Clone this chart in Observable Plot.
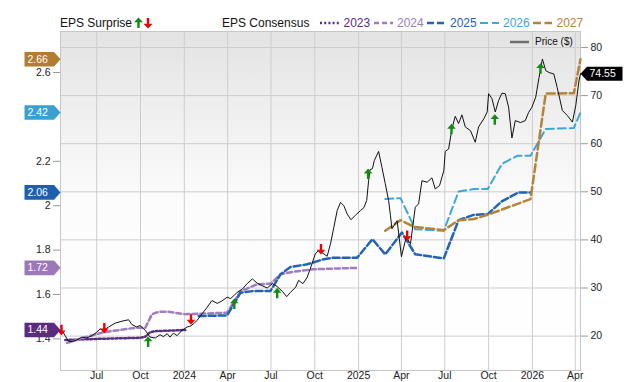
<!DOCTYPE html>
<html><head><meta charset="utf-8">
<script src="https://cdn.jsdelivr.net/npm/d3@7"></script>
<script src="https://cdn.jsdelivr.net/npm/@observablehq/plot@0.6"></script>
<style>
body{margin:0;background:#fff;font-family:"Liberation Sans",Arial,sans-serif;}
#wrap{position:relative;width:640px;height:382px;overflow:hidden}
#legend{position:relative;height:28px;font-size:12px;color:#111}
#legend span,#legend svg{position:absolute;line-height:14px;white-space:nowrap}
#plegend{position:absolute;left:510px;top:36px;font-size:10px;color:#111}
</style></head><body>
<div id="wrap"><div id="legend"></div><div id="chart"></div><div id="plegend"></div></div>
<script>
// ---- data ----
const price = [
["2023-04-19",21.2],["2023-05-03",18.9],["2023-05-13",18.9],["2023-05-20",19.2],["2023-05-31",19.8],
["2023-06-10",19.6],["2023-06-21",20.1],["2023-07-01",20.8],["2023-07-08",21.5],["2023-07-15",21.2],
["2023-07-26",21.9],["2023-08-09",22.7],["2023-08-23",23.1],["2023-09-06",23.4],["2023-09-13",22.4],
["2023-09-23",21.9],["2023-09-30",22.2],["2023-10-11",21.2],["2023-10-21",19.8],["2023-11-01",19.6],
["2023-11-11",20.3],["2023-11-18",19.9],["2023-11-26",20.5],["2023-12-02",19.8],["2023-12-09",20.6],
["2023-12-17",20.1],["2023-12-27",21.2],["2024-01-07",21.9],["2024-01-14",22.1],["2024-01-21",22.6],
["2024-01-28",23.3],["2024-02-07",24.6],["2024-02-18",26.0],["2024-02-28",27.4],["2024-03-10",26.8],
["2024-03-20",27.3],["2024-03-31",28.1],["2024-04-07",27.8],["2024-04-14",28.4],["2024-04-21",29.1],
["2024-05-02",29.8],["2024-05-12",30.9],["2024-05-23",31.9],["2024-06-02",31.0],["2024-06-12",30.5],
["2024-06-23",30.0],["2024-07-04",30.9],["2024-07-14",30.3],["2024-07-25",29.3],["2024-08-03",28.2],
["2024-08-11",29.1],["2024-08-22",30.2],["2024-08-28",31.6],["2024-09-06",30.9],["2024-09-15",32.2],
["2024-09-25",35.0],["2024-10-02",37.1],["2024-10-09",37.8],["2024-10-20",37.1],["2024-10-27",36.6],
["2024-11-03",39.2],["2024-11-10",42.6],["2024-11-17",46.1],["2024-11-24",47.8],["2024-12-01",47.1],
["2024-12-08",45.4],["2024-12-16",44.2],["2024-12-25",45.1],["2025-01-05",46.1],["2025-01-12",46.7],
["2025-01-18",48.2],["2025-01-22",52.3],["2025-01-25",54.6],["2025-01-30",54.8],["2025-02-03",56.5],
["2025-02-12",58.4],["2025-02-19",55.1],["2025-02-26",51.7],["2025-03-05",48.2],["2025-03-09",45.0],
["2025-03-12",42.3],["2025-03-23",44.0],["2025-04-01",36.5],["2025-04-11",40.6],["2025-04-20",39.2],
["2025-04-30",46.8],["2025-05-07",47.5],["2025-05-14",52.3],["2025-05-25",52.0],["2025-06-04",52.9],
["2025-06-11",50.6],["2025-06-20",51.3],["2025-06-29",54.4],["2025-07-02",58.4],["2025-07-09",58.9],
["2025-07-16",63.1],["2025-07-23",65.7],["2025-07-30",64.2],["2025-08-06",66.0],["2025-08-13",63.5],
["2025-08-24",62.7],["2025-09-03",60.3],["2025-09-10",63.5],["2025-09-21",65.2],["2025-09-28",66.6],
["2025-10-01",70.4],["2025-10-08",69.4],["2025-10-15",66.6],["2025-10-22",69.0],["2025-10-29",70.5],
["2025-11-05",70.4],["2025-11-12",67.6],["2025-11-19",61.2],["2025-11-26",64.8],["2025-12-07",64.4],
["2025-12-17",64.8],["2025-12-24",66.5],["2025-12-31",67.6],["2026-01-08",69.7],["2026-01-15",73.8],
["2026-01-22",77.6],["2026-01-29",75.2],["2026-02-05",74.8],["2026-02-15",74.5],["2026-02-22",71.7],
["2026-03-05",66.9],["2026-03-15",65.9],["2026-03-26",64.5],["2026-04-02",67.9],["2026-04-09",73.2],
["2026-04-12",74.55]
];
const eps2023 = [["2023-04-26",1.395],["2023-07-01",1.400],["2023-09-30",1.405],["2023-10-11",1.41],
["2023-10-21",1.43],["2023-11-01",1.435],["2024-01-03",1.44]];
const eps2024 = [["2023-04-30",1.382],["2023-06-04",1.405],["2023-07-15",1.430],["2023-09-20",1.450],
["2023-10-11",1.450],["2023-10-25",1.511],["2023-11-08",1.522],["2023-11-29",1.522],["2024-01-03",1.511],
["2024-01-28",1.513],["2024-03-31",1.518],["2024-04-28",1.614],["2024-06-02",1.646],["2024-06-30",1.649],
["2024-07-21",1.691],["2024-08-18",1.703],["2024-09-29",1.714],["2024-12-28",1.72]];
const eps2025 = [["2024-01-31",1.503],["2024-03-31",1.506],["2024-04-28",1.608],["2024-05-26",1.616],
["2024-06-30",1.616],["2024-07-21",1.691],["2024-08-11",1.724],["2024-09-15",1.736],["2024-10-20",1.759],
["2024-11-10",1.766],["2024-12-29",1.766],["2025-01-30",1.849],["2025-02-26",1.781],["2025-04-02",1.879],
["2025-04-30",1.781],["2025-06-29",1.763],["2025-07-30",1.935],["2025-08-31",1.959],["2025-09-29",1.962],
["2025-10-29",2.02],["2025-12-03",2.06],["2025-12-28",2.06]];
const eps2026 = [["2025-02-26",2.030],["2025-03-30",2.034],["2025-04-30",1.894],["2025-06-29",1.887],
["2025-07-30",2.064],["2025-08-31",2.075],["2025-09-29",2.075],["2025-10-29",2.188],["2025-11-30",2.225],
["2025-12-28",2.225],["2026-01-29",2.346],["2026-03-29",2.350],["2026-04-12",2.42]];
const eps2027 = [["2025-02-26",1.887],["2025-03-30",1.935],["2025-04-27",1.905],["2025-06-29",1.890],
["2025-07-30",1.935],["2025-08-31",1.940],["2025-09-29",1.959],["2025-12-28",2.030],["2026-01-29",2.505],
["2026-03-29",2.507],["2026-04-12",2.66]];
// earnings surprises: date, direction, price level where the arrow sits
const surprises = [["2023-04-18","down",21.3],["2023-07-17","down",21.7],["2023-10-17","up",18.8],
["2024-01-15","down",23.5],["2024-04-15","up",26.7],["2024-07-14","up",28.9],["2024-10-14","down",38.1],
["2025-01-21","up",53.7],["2025-04-13","down",40.9],["2025-07-15","up",63.0],["2025-10-14","up",65.0],
["2026-01-18","up",75.6]];
const years = ["2023","2024","2025","2026","2027"];
const yearColors = ["#5c2d86","#a07cc0","#2263b3","#40a5d7","#b5823a"];
const badgeColors = ["#5b2b82","#9c78b8","#1f5fad","#3aa0d2","#b07d33"];
const yearDash = ["2,2.2","5,3","7,3","8,4","8,3.5"];
const yearWidth = [2.5,2.5,2.5,2,2.5];
const latestEps = [1.44,1.72,2.06,2.42,2.66];
const lastPrice = 74.55;
const priceTicks = [20,30,40,50,60,70,80];
const epsTicks = [1.4,1.6,1.8,2.0,2.2,2.6];
const xDomain = ["2023-04-16","2026-04-12"];
const priceDomain = [12.85,83.33];

// ---- helpers ----
const parse = s => new Date(s + "T00:00:00Z");
const e2p = e => 74.8025 - (2.6 - e) * 46.154;   // EPS -> price-axis units (dual axis)
const p2e = p => 2.6 - (74.8025 - p) / 46.154;
const series = [eps2023,eps2024,eps2025,eps2026,eps2027].map((s,i)=>s.map(([d,v])=>({date:parse(d),v:e2p(v),i})));
const priceData = price.map(([d,v])=>({date:parse(d),v}));
const surpData = surprises.map(([d,dir,v])=>({date:parse(d),dir,v}));
const badges = latestEps.map((v,i)=>({v,i}));

const badgeL = {draw(c){c.moveTo(-36,-7.3);c.lineTo(-6.5,-7.3);c.lineTo(0,0);c.lineTo(-6.5,7.3);c.lineTo(-36,7.3);c.closePath();}};
const badgeR = {draw(c){c.moveTo(0,0);c.lineTo(6.5,-7);c.lineTo(42,-7);c.lineTo(42,7);c.lineTo(6.5,7);c.closePath();}};
const arrUp = {draw(c){c.moveTo(0,-5.5);c.lineTo(4.3,-0.6);c.lineTo(1.2,-0.6);c.lineTo(1.2,5);c.lineTo(-1.2,5);c.lineTo(-1.2,-0.6);c.lineTo(-4.3,-0.6);c.closePath();}};
const arrDown = {draw(c){c.moveTo(0,5.5);c.lineTo(4.3,0.6);c.lineTo(1.2,0.6);c.lineTo(1.2,-5);c.lineTo(-1.2,-5);c.lineTo(-1.2,0.6);c.lineTo(-4.3,0.6);c.closePath();}};

const monthFmt = d3.utcFormat("%b");
const marks = [
  Plot.frame({fill:"url(#bgGrad)", stroke:null}),
  Plot.gridX({ticks: d3.utcMonth.every(3), stroke:"#cdcdcd", strokeOpacity:1}),
  Plot.gridY(priceTicks, {stroke:"#cdcdcd", strokeOpacity:1}),
  Plot.frame({stroke:"#c6c6c6"}),
  ...series.map((s,i)=>Plot.line(s,{x:"date",y:"v",stroke:yearColors[i],strokeWidth:yearWidth[i],strokeDasharray:yearDash[i]})),
  Plot.line(priceData,{x:"date",y:"v",stroke:"#111",strokeWidth:1}),
  Plot.dot(surpData.filter(d=>d.dir==="up"),{x:"date",y:"v",symbol:arrUp,fill:"#138a13",stroke:null}),
  Plot.dot(surpData.filter(d=>d.dir==="down"),{x:"date",y:"v",symbol:arrDown,fill:"#f00000",stroke:null}),
  Plot.axisX({ticks: d3.utcMonth.every(3), tickFormat: d => d.getUTCMonth()===0 ? String(d.getUTCFullYear()) : monthFmt(d), tickSize:0, tickPadding:1, label:null, fontSize:10.5}),
  Plot.axisY(priceTicks,{anchor:"right", tickSize:7, tickPadding:3, label:null, stroke:"#999", fontSize:10.5}),
  Plot.axisY(epsTicks.map(e2p),{anchor:"left", tickSize:7, tickPadding:3, label:null, stroke:"#999", fontSize:10.5, tickFormat: p => String(+p2e(p).toFixed(2))}),
  Plot.dot(badges,{y:d=>e2p(d.v), frameAnchor:"left", symbol:badgeL, fill:d=>badgeColors[d.i], stroke:null}),
  Plot.text(badges,{y:d=>e2p(d.v), text:d=>d.v.toFixed(2), frameAnchor:"left", textAnchor:"start", dx:-33, fill:"white", fontSize:10.5}),
  Plot.dot([lastPrice],{y:d=>d, frameAnchor:"right", symbol:badgeR, fill:"#000", stroke:null}),
  Plot.text([lastPrice],{y:d=>d, text:d=>d.toFixed(2), frameAnchor:"right", textAnchor:"start", dx:9, fill:"white", fontSize:10.5})
];

const chart = Plot.plot({
  width:640, height:354,
  marginTop:3, marginBottom:12, marginLeft:60, marginRight:60,
  style:{fontFamily:"Liberation Sans, Arial, sans-serif", fontSize:"10.5px", color:"#222", background:"transparent", overflow:"visible"},
  x:{type:"utc", domain:xDomain.map(parse)},
  y:{domain:priceDomain},
  color:{type:"identity"},
  marks
});
const ns="http://www.w3.org/2000/svg";
const defs=document.createElementNS(ns,"defs");
defs.innerHTML='<linearGradient id="bgGrad" x1="0" y1="0" x2="0" y2="1"><stop offset="0" stop-color="#e3e3e3"/><stop offset="0.5" stop-color="#fcfcfc"/><stop offset="1" stop-color="#ffffff"/></linearGradient>';
chart.insertBefore(defs, chart.firstChild);
document.getElementById("chart").appendChild(chart);

// ---- legends (HTML above the svg) ----
const lg = document.getElementById("legend");
let html = '<span style="left:60px;top:16px">EPS Surprise</span>';
html += '<svg style="left:134px;top:17px" width="20" height="12"><path d="M4.5,0.5 L9,5.2 L5.7,5.2 L5.7,11 L3.3,11 L3.3,5.2 L0,5.2Z" fill="#138a13"/><path d="M14,11.5 L18.5,6.8 L15.2,6.8 L15.2,1 L12.8,1 L12.8,6.8 L9.5,6.8Z" fill="#f00000"/></svg>';
html += '<span style="left:222px;top:16px">EPS Consensus</span>';
const sampleX=[320,374,426.5,480,533], labelX=[343.5,397,450,503,556.5];
years.forEach((y,i)=>{
  html += `<svg style="left:${sampleX[i]}px;top:17px" width="20" height="12"><line x1="0" x2="19" y1="6" y2="6" stroke="${yearColors[i]}" stroke-width="${yearWidth[i]}" stroke-dasharray="${yearDash[i]}"/></svg>`;
  html += `<span style="left:${labelX[i]}px;top:16px;color:${yearColors[i]}">${y}</span>`;
});
lg.innerHTML = html;
document.getElementById("plegend").innerHTML = '<svg width="20" height="12" style="position:absolute;left:0;top:0"><line x1="0" x2="19" y1="6" y2="6" stroke="#6e6e6e" stroke-width="2.5"/></svg><span style="position:absolute;left:25px;top:0;line-height:12px;white-space:nowrap">Price ($)</span>';
</script>
</body></html>
